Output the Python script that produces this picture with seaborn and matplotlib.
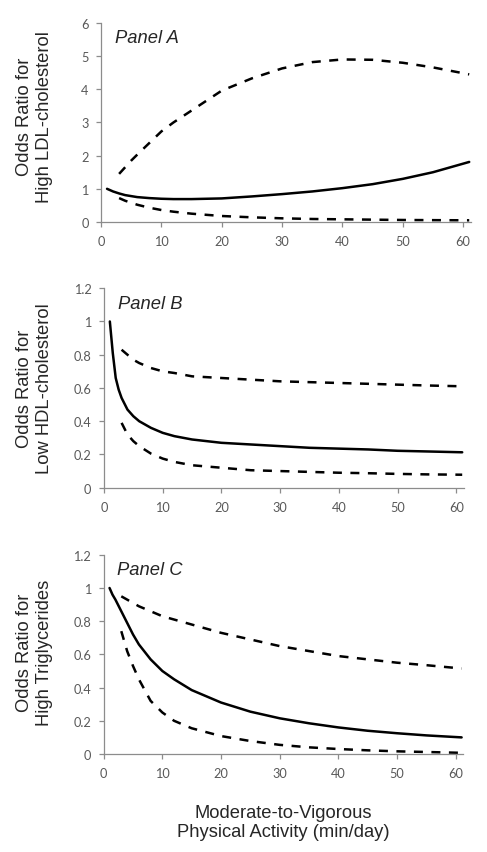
import pandas as pd
import matplotlib
matplotlib.use("Agg")
import matplotlib.pyplot as plt
import seaborn as sns

# minutes/day of MVPA
mvpa_or = [1, 1.5, 2, 2.5, 3, 4, 5, 6, 8, 10, 12, 15, 20, 25, 30, 35, 40, 45, 50, 55, 61]
mvpa_ci = [3, 4, 5, 6, 8, 10, 12, 15, 20, 25, 30, 35, 40, 45, 50, 55, 61]

# Panel A - high LDL-cholesterol
ldl_or = [1.0, 0.96, 0.92, 0.89, 0.86, 0.81, 0.78, 0.75, 0.72, 0.70, 0.69, 0.69, 0.71,
          0.77, 0.84, 0.92, 1.02, 1.14, 1.30, 1.50, 1.81]
ldl_hi = [1.45, 1.65, 1.85, 2.03, 2.38, 2.73, 3.0, 3.36, 3.96, 4.33, 4.63, 4.82, 4.90,
          4.89, 4.80, 4.66, 4.45]
ldl_lo = [0.72, 0.64, 0.58, 0.52, 0.43, 0.36, 0.31, 0.25, 0.18, 0.14, 0.11, 0.09, 0.08,
          0.07, 0.06, 0.055, 0.05]

# Panel B - low HDL-cholesterol
hdl_or = [1.0, 0.81, 0.66, 0.59, 0.54, 0.47, 0.43, 0.40, 0.36, 0.33, 0.31, 0.29, 0.27,
          0.26, 0.25, 0.24, 0.235, 0.23, 0.222, 0.218, 0.213]
hdl_hi = [0.83, 0.80, 0.77, 0.75, 0.72, 0.70, 0.69, 0.67, 0.66, 0.65, 0.64, 0.635, 0.63,
          0.625, 0.62, 0.615, 0.61]
hdl_lo = [0.39, 0.32, 0.28, 0.25, 0.205, 0.175, 0.155, 0.135, 0.12, 0.105, 0.10, 0.095,
          0.09, 0.087, 0.083, 0.08, 0.078]

# Panel C - high triglycerides
tg_or = [1.0, 0.96, 0.93, 0.895, 0.86, 0.79, 0.72, 0.66, 0.57, 0.50, 0.45, 0.385, 0.31,
         0.255, 0.215, 0.185, 0.16, 0.14, 0.125, 0.112, 0.10]
tg_hi = [0.95, 0.93, 0.91, 0.89, 0.86, 0.83, 0.81, 0.78, 0.73, 0.69, 0.65, 0.62, 0.59,
         0.57, 0.55, 0.535, 0.515]
tg_lo = [0.74, 0.62, 0.53, 0.45, 0.32, 0.25, 0.20, 0.155, 0.108, 0.078, 0.055, 0.04,
         0.03, 0.022, 0.016, 0.012, 0.007]

panel_names = ["Panel A", "Panel B", "Panel C"]
ylabels = ["Odds Ratio for\nHigh LDL-cholesterol",
           "Odds Ratio for\nLow HDL-cholesterol",
           "Odds Ratio for\nHigh Triglycerides"]
yticks_a = [0, 1, 2, 3, 4, 5, 6]
yticks_bc = [0, 0.2, 0.4, 0.6, 0.8, 1.0, 1.2]
yticklabels_bc = ["0", "0.2", "0.4", "0.6", "0.8", "1", "1.2"]
xticks = [0, 10, 20, 30, 40, 50, 60]
xlabel = "Moderate-to-Vigorous\nPhysical Activity (min/day)"


def long_frame(odds, hi, lo):
    parts = [
        pd.DataFrame({"x": mvpa_or, "odds": odds, "curve": "OR"}),
        pd.DataFrame({"x": mvpa_ci, "odds": hi, "curve": "upper"}),
        pd.DataFrame({"x": mvpa_ci, "odds": lo, "curve": "lower"}),
    ]
    return pd.concat(parts, ignore_index=True)


sns.set_style("white")
plt.rcParams["font.family"] = ["Liberation Sans", "DejaVu Sans"]

grey = "#8c8c8c"
tick_grey = "#595959"
tick_font = dict(family="Lato", fontsize=9.2, color=tick_grey)

fig = plt.figure(figsize=(4.87, 8.53), dpi=100)
# axes boxes in figure fractions
boxes = [
    [0.2074, 0.7386, 0.7598, 0.2333],
    [0.2135, 0.4271, 0.7392, 0.2338],
    [0.2129, 0.1149, 0.7386, 0.2335],
]
frames = [long_frame(ldl_or, ldl_hi, ldl_lo),
          long_frame(hdl_or, hdl_hi, hdl_lo),
          long_frame(tg_or, tg_hi, tg_lo)]
label_pos = [(-0.130, 0.533), (-0.142, 0.502), (-0.141, 0.515)]

for i, (box, df) in enumerate(zip(boxes, frames)):
    ax = fig.add_axes(box)
    sns.lineplot(data=df, x="x", y="odds", style="curve",
                 dashes={"OR": "", "upper": (3.6, 3.4), "lower": (3.6, 3.4)},
                 color="black", linewidth=1.8, estimator=None, sort=False,
                 legend=False, ax=ax)

    ax.set_xlim(0, 61.3)
    ax.set_xticks(xticks)
    ax.set_xticklabels([str(t) for t in xticks], **tick_font)
    if i == 0:
        ax.set_ylim(0, 6)
        ax.set_yticks(yticks_a)
        ax.set_yticklabels([str(t) for t in yticks_a], **tick_font)
    else:
        ax.set_ylim(0, 1.2)
        ax.set_yticks(yticks_bc)
        ax.set_yticklabels(yticklabels_bc, **tick_font)

    sns.despine(ax=ax)
    for side in ["left", "bottom"]:
        ax.spines[side].set_color(grey)
        ax.spines[side].set_linewidth(0.9)
    ax.tick_params(axis="both", which="major", direction="out", length=3.5,
                   width=0.9, color=grey, left=True, bottom=True)
    ax.tick_params(axis="y", pad=5.5)
    ax.tick_params(axis="x", pad=6)

    ax.set_ylabel(ylabels[i], fontsize=13.2, linespacing=1.25)
    ax.yaxis.set_label_coords(*label_pos[i])
    ax.set_xlabel("")

    ax.text(0.038, 0.925, panel_names[i], transform=ax.transAxes,
            fontsize=13.2, style="italic", va="center", ha="left")

    if i == 2:
        ax.set_xlabel(xlabel, fontsize=13.2, linespacing=1.2)
        ax.xaxis.set_label_coords(0.5, -0.25)

fig.savefig("out.png", dpi=100)
